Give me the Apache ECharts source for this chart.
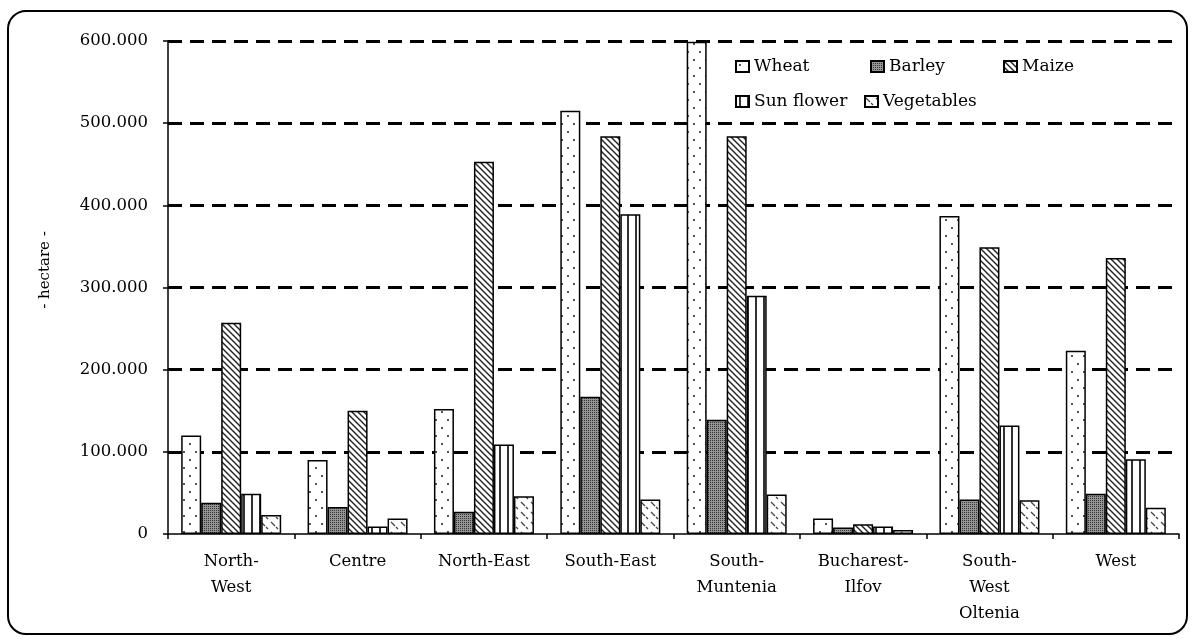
<!DOCTYPE html>
<html>
<head>
<meta charset="utf-8">
<title>Crop areas by region</title>
<script src="https://cdn.jsdelivr.net/npm/echarts@6.0.0/dist/echarts.min.js"></script>
<style>
  html, body { margin: 0; padding: 0; background: #fff; }
  #chart { width: 1194px; height: 640px; }
</style>
</head>
<body>
<div id="chart"></div>
<script>
// categories (regions)
const categories = ['North-\nWest', 'Centre', 'North-East', 'South-East', 'South-\nMuntenia', 'Bucharest-\nIlfov', 'South-\nWest\nOltenia', 'West'];
// hectare per crop
const wheat = [120000, 90000, 152000, 515000, 599000, 19000, 387000, 223000];
const barley = [38000, 33000, 27000, 167000, 139000, 8000, 42000, 49000];
const maize = [257000, 150000, 453000, 484000, 484000, 12000, 349000, 336000];
const sunflower = [49000, 9000, 109000, 389000, 290000, 9000, 132000, 91000];
const vegetables = [23000, 19000, 46000, 42000, 48000, 5000, 41000, 32000];
const yTicks = [0, 100000, 200000, 300000, 400000, 500000, 600000];

const FONT = 'DejaVu Serif';

// small canvas patterns, like the excel fills
function makePattern(w, h, draw) {
  const c = document.createElement('canvas');
  c.width = w;
  c.height = h;
  const ctx = c.getContext('2d');
  ctx.fillStyle = '#fff';
  ctx.fillRect(0, 0, w, h);
  draw(ctx);
  return { image: c, repeat: 'repeat' };
}

// wheat: sparse dots
const wheatFill = makePattern(12, 16, (ctx) => {
  ctx.fillStyle = '#555';
  ctx.fillRect(3, 3, 2, 2);
  ctx.fillRect(9, 11, 2, 2);
});
// barley: dense dark grey check
const barleyFill = makePattern(4, 4, (ctx) => {
  ctx.fillStyle = '#959595';
  ctx.fillRect(0, 0, 4, 4);
  ctx.fillStyle = '#333';
  ctx.fillRect(0, 0, 1, 1);
  ctx.fillRect(2, 2, 1, 1);
  ctx.fillRect(2, 0, 1, 1);
  ctx.fillRect(0, 2, 1, 1);
});
// maize: dense diagonal lines
const maizeFill = makePattern(6, 6, (ctx) => {
  ctx.strokeStyle = '#222';
  ctx.lineWidth = 1.4;
  ctx.beginPath();
  ctx.moveTo(-1, -1); ctx.lineTo(7, 7);
  ctx.moveTo(-1, 5); ctx.lineTo(1, 7);
  ctx.moveTo(5, -1); ctx.lineTo(7, 1);
  ctx.stroke();
});
// sun flower: vertical lines
const sunflowerFill = makePattern(8, 4, (ctx) => {
  ctx.fillStyle = '#333';
  ctx.fillRect(3, 0, 2, 4);
});
// vegetables: short dashes
const vegetablesFill = makePattern(10, 10, (ctx) => {
  ctx.strokeStyle = '#444';
  ctx.lineWidth = 1.3;
  ctx.beginPath();
  ctx.moveTo(1, 2); ctx.lineTo(5, 6);
  ctx.moveTo(6, 7); ctx.lineTo(8, 9);
  ctx.stroke();
});

function barSeries(name, data, fill) {
  return {
    name: name,
    type: 'bar',
    barWidth: 20,
    barGap: '0%',
    itemStyle: {
      color: fill,
      borderColor: '#000',
      borderWidth: 1.5
    },
    data: data
  };
}

function legendItem(name, left, top) {
  return {
    data: [name],
    left: left,
    top: top,
    padding: 0,
    icon: 'rect',
    itemWidth: 13,
    itemHeight: 11,
    itemGap: 0,
    selectedMode: false,
    textStyle: { fontFamily: FONT, fontSize: 17, color: '#000' }
  };
}

const chart = echarts.init(document.getElementById('chart'), null, { renderer: 'canvas' });

const option = {
  backgroundColor: '#fff',
  animation: false,
  grid: {
    left: 168,
    right: 15,
    top: 41,
    bottom: 106
  },
  legend: [
    legendItem('Wheat', 735, 58),
    legendItem('Barley', 870, 58),
    legendItem('Maize', 1003, 58),
    legendItem('Sun flower', 735, 93),
    legendItem('Vegetables', 864, 93)
  ],
  xAxis: {
    type: 'category',
    data: categories,
    axisLine: { lineStyle: { color: '#000', width: 1.5 } },
    axisTick: { show: true, length: 5, lineStyle: { color: '#000', width: 1.5 } },
    axisLabel: {
      interval: 0,
      margin: 15,
      color: '#000',
      fontFamily: FONT,
      fontSize: 16.5,
      lineHeight: 26
    }
  },
  yAxis: {
    type: 'value',
    min: yTicks[0],
    max: yTicks[yTicks.length - 1],
    interval: yTicks[1] - yTicks[0],
    axisLine: { show: true, lineStyle: { color: '#000', width: 1.5 } },
    axisTick: { show: true, length: 5, lineStyle: { color: '#000', width: 1.5 } },
    axisLabel: {
      margin: 20,
      color: '#000',
      fontFamily: FONT,
      fontSize: 16.5,
      formatter: (v) => (v === 0 ? '0' : v / 1000 + '.000')
    },
    splitLine: {
      show: true,
      showMinLine: false,
      lineStyle: { color: '#000', width: 3, type: [14, 8] }
    }
  },
  graphic: [
    {
      // rounded frame round the whole chart
      type: 'rect',
      z: -10,
      shape: { x: 8, y: 11, width: 1179, height: 623, r: 18 },
      style: { fill: 'none', stroke: '#000', lineWidth: 2 }
    },
    {
      type: 'text',
      x: 45,
      y: 270,
      rotation: Math.PI / 2,
      style: {
        text: '- hectare -',
        font: '15px "DejaVu Serif"',
        fill: '#000',
        align: 'center',
        verticalAlign: 'middle'
      }
    }
  ],
  series: [
    barSeries('Wheat', wheat, wheatFill),
    barSeries('Barley', barley, barleyFill),
    barSeries('Maize', maize, maizeFill),
    barSeries('Sun flower', sunflower, sunflowerFill),
    barSeries('Vegetables', vegetables, vegetablesFill)
  ]
};

chart.setOption(option);
</script>
</body>
</html>
